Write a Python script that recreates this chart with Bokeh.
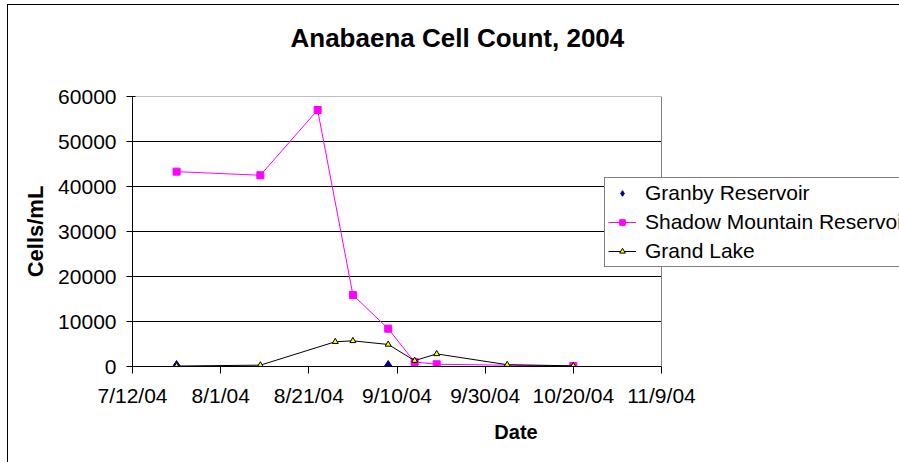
from datetime import datetime
from bokeh.plotting import figure
from bokeh.models import FixedTicker, Legend, LegendItem, Range1d, NumeralTickFormatter, Title
from bokeh.embed import file_html
from bokeh.resources import INLINE

# ---- data ----
granby_dates = ["2004-07-22", "2004-09-08"]
granby_cells = [100, 100]

shadow_dates = ["2004-07-22", "2004-08-10", "2004-08-23", "2004-08-31",
                "2004-09-08", "2004-09-14", "2004-09-19", "2004-10-20"]
shadow_cells = [43300, 42500, 57000, 15900, 8400, 1000, 500, 100]

grand_dates = ["2004-07-22", "2004-08-10", "2004-08-27", "2004-08-31",
               "2004-09-08", "2004-09-14", "2004-09-19", "2004-10-05", "2004-10-20"]
grand_cells = [100, 300, 5500, 5700, 4900, 1300, 2800, 400, 150]

x_tick_dates = ["2004-07-12", "2004-08-01", "2004-08-21", "2004-09-10",
                "2004-09-30", "2004-10-20", "2004-11-09"]
x_tick_labels = ["7/12/04", "8/1/04", "8/21/04", "9/10/04",
                 "9/30/04", "10/20/04", "11/9/04"]
y_ticks = [0, 10000, 20000, 30000, 40000, 50000, 60000]
y_grid = [10000, 20000, 30000, 40000, 50000]

series_names = ["Granby Reservoir", "Shadow Mountain Reservoir", "Grand Lake"]
chart_title = "Anabaena Cell Count, 2004"


def to_dt(lst):
    return [datetime.strptime(s, "%Y-%m-%d") for s in lst]


def to_ms(d):
    return (d - datetime(1970, 1, 1)).total_seconds() * 1000.0


tick_dt = to_dt(x_tick_dates)
tick_ms = [to_ms(d) for d in tick_dt]
x0, x1 = tick_dt[0], tick_dt[-1]

# layout (pixels): plot area 132..661 horizontally, 96..366 vertically;
# the frame is extended to the right page edge so the legend can overhang it
W, H = 899, 462
PL, PR, PT, PB = 132, 661, 96, 366
x_end = x1 + (x1 - x0) * ((W - PR) / (PR - PL))

FONT = "Liberation Sans"

p = figure(width=W, height=H, x_axis_type="datetime", title=None,
           output_backend="svg", toolbar_location=None,
           x_range=Range1d(x0, x_end),
           y_range=Range1d(y_ticks[0], y_ticks[-1]),
           min_border_left=PL, min_border_right=0,
           min_border_top=PT, min_border_bottom=H - PB,
           background_fill_color="white",
           styles={"background": "linear-gradient(#000,#000) 7px 4px / 1px 100% no-repeat, "
                                 "linear-gradient(#000,#000) 7px 4px / 100% 1px no-repeat, white"})
p.border_fill_alpha = 0
p.outline_line_color = None

# spacer between the plot area and the title, then the title itself
p.add_layout(Title(text=" ", text_font_size="2px", standoff=40), "above")
p.add_layout(Title(text=chart_title, text_font=FONT, text_font_style="bold",
                   text_font_size="26px", text_color="black", align="left",
                   offset=158, standoff=0), "above")

# x axis
xa = p.xaxis[0]
xa.ticker = FixedTicker(ticks=tick_ms)
xa.bounds = (x0, x1)
xa.major_label_overrides = dict(zip(tick_ms, x_tick_labels))
xa.major_tick_in = 0
xa.major_tick_out = 7
xa.minor_tick_out = 0
xa.minor_tick_in = 0
xa.major_tick_line_color = "black"
xa.axis_line_color = "black"
xa.major_label_text_font = FONT
xa.major_label_text_font_size = "21px"
xa.major_label_text_color = "black"
xa.major_label_standoff = 10
xa.axis_label = "Date"
xa.axis_label_text_font = FONT
xa.axis_label_text_font_style = "bold"
xa.axis_label_text_font_size = "20px"
xa.axis_label_text_color = "black"
xa.axis_label_standoff = 11

# y axis
ya = p.yaxis[0]
ya.ticker = FixedTicker(ticks=y_ticks)
ya.formatter = NumeralTickFormatter(format="0")
ya.major_tick_in = 3
ya.major_tick_out = 6
ya.minor_tick_out = 0
ya.minor_tick_in = 0
ya.major_tick_line_color = "black"
ya.axis_line_color = "black"
ya.major_label_text_font = FONT
ya.major_label_text_font_size = "21px"
ya.major_label_text_color = "black"
ya.major_label_standoff = 10
ya.axis_label = "Cells/mL"
ya.axis_label_text_font = FONT
ya.axis_label_text_font_style = "bold"
ya.axis_label_text_font_size = "22px"
ya.axis_label_text_color = "black"
ya.axis_label_standoff = 7

# grid lines and plot-area border, limited to the plotted date span
p.xgrid.visible = False
p.ygrid.visible = False
p.segment(x0=[x0] * len(y_grid), y0=y_grid, x1=[x1] * len(y_grid), y1=y_grid,
          line_color="black", line_width=1)
p.segment(x0=[x0, x1], y0=[y_ticks[-1], y_ticks[0]], x1=[x1, x1], y1=[y_ticks[-1], y_ticks[-1]],
          line_color="#808080", line_width=1)

# glyphs
r_g = p.scatter(to_dt(granby_dates), granby_cells, marker="diamond", size=11,
                fill_color="#000080", line_color="#000080")
r_sl = p.line(to_dt(shadow_dates), shadow_cells, line_color="#FF00FF", line_width=1)
r_ss = p.scatter(to_dt(shadow_dates), shadow_cells, marker="square", size=7,
                 fill_color="#FF00FF", line_color="#FF00FF")
r_gl = p.line(to_dt(grand_dates), grand_cells, line_color="black", line_width=1)
r_gs = p.scatter(to_dt(grand_dates), grand_cells, marker="triangle", size=6,
                 fill_color="#FFFF00", line_color="black", line_width=1)

legend = Legend(items=[
    LegendItem(label=series_names[0], renderers=[r_g]),
    LegendItem(label=series_names[1], renderers=[r_sl, r_ss]),
    LegendItem(label=series_names[2], renderers=[r_gl, r_gs]),
], location=(472, 99))
legend.border_line_color = "black"
legend.border_line_width = 1
legend.background_fill_color = "white"
legend.background_fill_alpha = 1
legend.label_text_font = FONT
legend.label_text_font_size = "21px"
legend.label_text_color = "black"
legend.padding = 3
legend.spacing = 5
legend.margin = 0
legend.label_standoff = 9
legend.glyph_width = 28
legend.glyph_height = 14
legend.label_height = 24
p.add_layout(legend, "center")

open("out.html", "w").write(file_html(p, INLINE))
